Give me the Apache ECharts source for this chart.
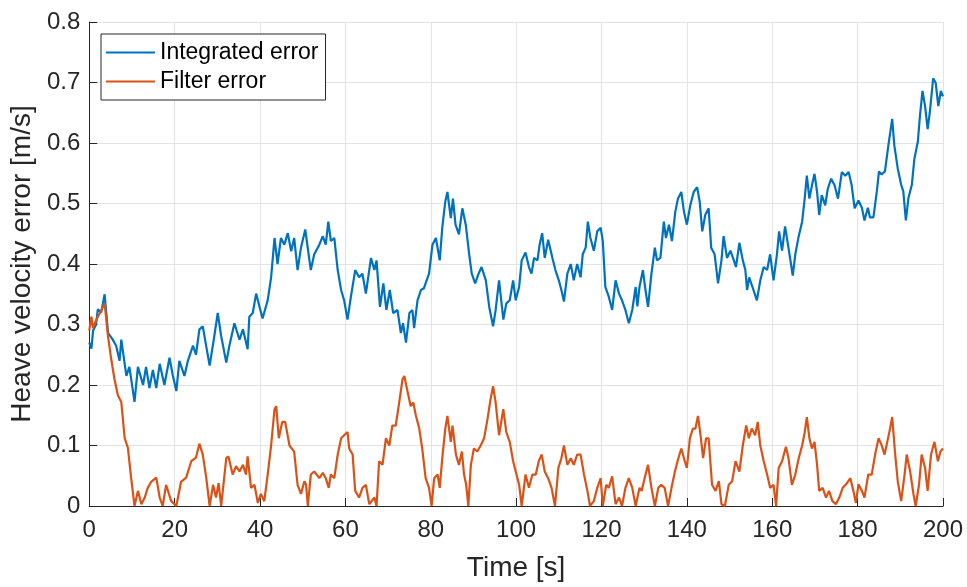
<!DOCTYPE html>
<html>
<head>
<meta charset="utf-8">
<script src="https://cdn.jsdelivr.net/npm/echarts@6/dist/echarts.min.js"></script>
<style>
  html, body { margin: 0; padding: 0; background: #fff; }
  #main { width: 967px; height: 587px; }
</style>
</head>
<body>
<div id="main"></div>
<script>
// [time s, error m/s]
var integratedError = [
  [0, 0.27], [0.5, 0.26], [0.9, 0.29], [1.6, 0.30], [2.0, 0.325], [2.8, 0.32], [3.6, 0.35], [4.4, 0.286],
  [5.5, 0.275], [6.3, 0.265], [7.1, 0.24], [7.5, 0.275], [8.7, 0.215], [9.4, 0.23], [10.6, 0.172], [11.4, 0.23],
  [12.6, 0.20], [13.3, 0.23], [14.1, 0.195], [14.9, 0.225], [15.7, 0.195], [16.5, 0.235], [17.6, 0.2], [18.8, 0.245],
  [19.6, 0.215], [20.4, 0.19], [21.1, 0.24], [22.3, 0.215], [23.1, 0.24], [24.3, 0.265], [25.0, 0.25], [25.8, 0.292],
  [26.6, 0.297], [27.4, 0.264], [28.2, 0.232], [29.3, 0.281], [30.1, 0.319], [30.9, 0.281], [32.1, 0.237], [32.8, 0.264],
  [34.0, 0.302], [35.2, 0.275], [36.0, 0.292], [37.1, 0.259], [37.5, 0.313], [38.3, 0.319], [39.1, 0.351], [39.9, 0.329],
  [40.6, 0.31], [41.8, 0.34], [42.6, 0.378], [43.4, 0.443], [44.1, 0.4], [44.9, 0.443], [45.7, 0.432], [46.5, 0.451],
  [47.3, 0.421], [48.0, 0.443], [48.8, 0.39], [49.6, 0.427], [50.6, 0.457], [51.5, 0.41], [51.9, 0.39], [52.7, 0.416],
  [53.9, 0.432], [54.7, 0.446], [55.4, 0.432], [56.0, 0.47], [56.6, 0.438], [57.4, 0.443], [58.2, 0.39], [59.0, 0.357],
  [59.7, 0.34], [60.5, 0.308], [61.3, 0.346], [62.3, 0.39], [63.2, 0.378], [64.0, 0.384], [64.8, 0.351], [66.0, 0.41],
  [66.8, 0.39], [67.3, 0.406], [68.1, 0.329], [68.9, 0.368], [69.6, 0.324], [70.4, 0.357], [71.2, 0.319], [72.2, 0.324],
  [73.0, 0.286], [73.5, 0.302], [74.2, 0.27], [75.0, 0.319], [75.7, 0.324], [76.1, 0.294], [76.9, 0.34], [77.7, 0.357],
  [78.4, 0.36], [78.8, 0.357], [79.6, 0.384], [80.4, 0.432], [81.2, 0.443], [82.1, 0.406], [82.7, 0.46], [83.4, 0.503],
  [83.9, 0.519], [84.7, 0.476], [85.2, 0.508], [85.8, 0.465], [86.6, 0.449], [87.4, 0.492], [88.2, 0.465], [89.0, 0.416],
  [89.6, 0.384], [90.4, 0.368], [91.2, 0.384], [91.9, 0.395], [92.9, 0.373], [93.7, 0.329], [94.6, 0.297], [95.2, 0.324],
  [96.0, 0.373], [97.0, 0.308], [97.7, 0.335], [98.5, 0.34], [99.3, 0.373], [99.9, 0.34], [100.7, 0.362], [101.3, 0.406],
  [102.2, 0.419], [103.0, 0.395], [103.6, 0.384], [104.2, 0.41], [105.0, 0.406], [105.5, 0.432], [106.1, 0.451], [106.7, 0.41],
  [107.5, 0.44], [108.5, 0.41], [109.2, 0.39], [110.0, 0.373], [110.6, 0.357], [111.2, 0.338], [112.0, 0.384], [112.8, 0.4],
  [113.5, 0.373], [114.3, 0.4], [115.1, 0.378], [115.6, 0.416], [116.3, 0.427], [116.8, 0.47], [117.4, 0.443], [118.2, 0.422],
  [119.0, 0.454], [119.8, 0.46], [120.3, 0.438], [120.9, 0.362], [121.7, 0.346], [122.5, 0.324], [123.3, 0.373], [124.1, 0.351],
  [124.8, 0.34], [125.6, 0.324], [126.4, 0.302], [127.2, 0.324], [128.0, 0.362], [128.4, 0.33], [128.9, 0.362], [129.7, 0.39],
  [130.3, 0.357], [130.9, 0.329], [131.7, 0.384], [132.5, 0.427], [133.0, 0.406], [133.8, 0.41], [134.6, 0.47], [135.1, 0.443],
  [135.8, 0.465], [136.5, 0.438], [137.3, 0.487], [137.9, 0.508], [138.7, 0.519], [139.3, 0.487], [140.0, 0.465], [140.8, 0.497],
  [141.6, 0.519], [142.4, 0.527], [143.0, 0.503], [143.6, 0.454], [144.3, 0.481], [145.1, 0.492], [145.7, 0.427], [146.5, 0.416],
  [147.3, 0.368], [148.1, 0.406], [148.6, 0.446], [149.4, 0.41], [150.2, 0.422], [151.0, 0.406], [151.5, 0.395], [152.3, 0.435],
  [153.1, 0.406], [153.7, 0.39], [154.1, 0.357], [154.6, 0.378], [155.6, 0.357], [156.4, 0.34], [157.2, 0.373], [158.0, 0.395],
  [158.8, 0.39], [159.5, 0.416], [160.3, 0.373], [161.1, 0.416], [161.6, 0.454], [162.3, 0.422], [163.0, 0.462], [163.8, 0.427],
  [164.8, 0.381], [165.4, 0.416], [166.2, 0.446], [167.0, 0.47], [167.6, 0.508], [168.1, 0.546], [168.7, 0.508], [169.3, 0.53],
  [169.9, 0.549], [170.5, 0.519], [171.0, 0.481], [171.6, 0.514], [172.4, 0.497], [173.0, 0.524], [173.8, 0.541], [174.6, 0.53],
  [175.4, 0.508], [176.3, 0.552], [177.1, 0.546], [177.9, 0.552], [178.6, 0.53], [179.3, 0.492], [180.2, 0.505], [181.0, 0.493],
  [181.6, 0.472], [182.4, 0.493], [182.9, 0.477], [183.7, 0.477], [184.5, 0.52], [185.0, 0.553], [185.6, 0.548], [186.4, 0.553],
  [187.2, 0.596], [188.1, 0.64], [188.6, 0.596], [189.4, 0.558], [190.2, 0.531], [190.7, 0.52], [191.3, 0.472], [191.9, 0.509],
  [192.7, 0.531], [193.3, 0.574], [194.1, 0.602], [194.6, 0.645], [195.2, 0.686], [195.8, 0.661], [196.4, 0.623], [196.9, 0.65],
  [197.7, 0.707], [198.3, 0.699], [198.9, 0.661], [199.5, 0.686], [200.0, 0.677]
];

var filterError = [
  [0, 0.29], [0.5, 0.313], [0.9, 0.294], [1.6, 0.307], [2.8, 0.323], [3.6, 0.335], [4.4, 0.28], [5.2, 0.24],
  [5.9, 0.21], [6.7, 0.183], [7.5, 0.172], [8.3, 0.112], [9.05, 0.096], [9.8, 0.047], [10.6, 0.0], [11.4, 0.025],
  [12.2, 0.003], [13.0, 0.014], [13.7, 0.03], [14.5, 0.04], [15.7, 0.047], [16.5, 0.014], [17.2, 0], [18.0, 0.035],
  [19.2, 0.008], [20.4, 0], [21.5, 0.04], [22.7, 0.047], [23.9, 0.074], [25.0, 0.08], [25.8, 0.103], [26.6, 0.085],
  [27.4, 0.047], [28.2, 0.0], [29.0, 0.035], [29.7, 0.014], [30.3, 0.038], [30.9, 0], [32.1, 0.079], [32.6, 0.082],
  [33.6, 0.052], [34.4, 0.066], [35.2, 0.057], [36.0, 0.068], [36.7, 0.052], [37.1, 0.082], [37.9, 0.03], [38.7, 0.035],
  [39.5, 0.005], [40.2, 0.02], [41.0, 0.008], [41.8, 0.052], [42.6, 0.1], [43.4, 0.16], [43.8, 0.165], [44.4, 0.112],
  [45.2, 0.139], [45.9, 0.139], [46.9, 0.1], [48.0, 0.09], [48.8, 0.035], [49.6, 0.02], [50.4, 0.041], [50.8, 0.035],
  [51.2, 0], [51.9, 0.052], [52.7, 0.057], [53.9, 0.046], [54.7, 0.055], [55.4, 0.046], [56.1, 0.03], [56.6, 0.052],
  [57.4, 0.046], [58.2, 0.085], [59.0, 0.112], [59.7, 0.117], [60.5, 0.122], [60.9, 0.095], [61.7, 0.085], [62.3, 0.025],
  [63.2, 0.014], [64.0, 0.03], [64.8, 0.035], [65.6, 0.003], [66.8, 0.014], [67.3, 0], [67.9, 0.074], [68.7, 0.068],
  [69.5, 0.112], [70.3, 0.1], [71.0, 0.133], [71.8, 0.133], [72.6, 0.171], [73.4, 0.21], [73.8, 0.215], [74.6, 0.188],
  [75.3, 0.165], [75.9, 0.171], [76.5, 0.15], [77.3, 0.128], [78.0, 0.095], [78.8, 0.046], [79.6, 0.03], [80.2, 0],
  [80.8, 0.046], [81.6, 0.052], [82.1, 0.03], [82.7, 0.079], [83.4, 0.128], [83.9, 0.149], [84.7, 0.106], [85.1, 0.133],
  [85.9, 0.085], [86.6, 0.068], [87.3, 0.09], [87.8, 0.052], [88.3, 0.035], [88.8, 0], [89.4, 0.068], [90.1, 0.095],
  [90.9, 0.09], [91.7, 0.1], [92.5, 0.112], [93.3, 0.144], [94.0, 0.176], [94.6, 0.198], [95.2, 0.171], [96.0, 0.117],
  [97.0, 0.16], [97.7, 0.122], [98.5, 0.106], [99.3, 0.074], [99.9, 0.057], [100.7, 0.035], [101.3, 0], [102.2, 0.052],
  [103.0, 0.03], [103.8, 0.052], [104.6, 0.052], [105.3, 0.074], [106.0, 0.085], [106.7, 0.057], [107.5, 0.046], [108.3, 0.03],
  [109.1, 0], [109.9, 0.063], [110.6, 0.079], [111.2, 0.1], [112.0, 0.068], [112.8, 0.079], [113.5, 0.068], [114.3, 0.085],
  [115.1, 0.085], [115.9, 0.052], [116.7, 0.025], [117.3, 0], [118.2, 0.008], [119.0, 0.03], [119.8, 0.046], [120.3, 0],
  [121.1, 0.035], [121.7, 0.03], [122.5, 0.049], [123.3, 0.003], [124.1, 0.014], [124.8, 0], [125.6, 0.03], [126.4, 0.046],
  [127.2, 0.03], [128.0, 0], [128.9, 0.03], [129.4, 0.025], [130.1, 0.046], [130.9, 0.068], [131.7, 0.03], [132.5, 0],
  [133.3, 0.03], [134.0, 0.035], [134.8, 0.03], [135.6, 0], [136.4, 0.03], [137.2, 0.057], [138.0, 0.079], [138.7, 0.095],
  [139.5, 0.074], [140.0, 0.063], [140.7, 0.112], [141.4, 0.128], [142.0, 0.128], [142.6, 0.149], [143.2, 0.117], [143.8, 0.079],
  [144.5, 0.112], [145.1, 0.112], [145.9, 0.035], [146.7, 0.025], [147.5, 0.041], [148.1, 0.003], [148.9, 0], [149.8, 0.035],
  [150.6, 0.041], [151.4, 0.074], [152.3, 0.057], [153.1, 0.1], [153.9, 0.133], [154.5, 0.112], [155.2, 0.128], [156.0, 0.117],
  [156.6, 0.139], [157.2, 0.1], [158.0, 0.074], [158.8, 0.052], [159.5, 0.03], [160.3, 0.035], [160.9, 0], [161.5, 0.063],
  [162.3, 0.074], [163.2, 0.098], [163.8, 0.079], [164.6, 0.035], [165.4, 0.052], [166.2, 0.079], [167.0, 0.1], [167.6, 0.122],
  [168.1, 0.147], [168.7, 0.112], [169.3, 0.095], [169.9, 0.106], [170.5, 0.068], [171.0, 0.025], [171.8, 0.03], [172.6, 0.014],
  [173.3, 0.025], [174.1, 0.008], [174.9, 0.003], [175.7, 0.014], [176.5, 0.03], [177.2, 0.035], [178.3, 0.046], [179.0, 0.025],
  [179.6, 0.005], [180.2, 0.036], [181.0, 0.025], [181.6, 0.014], [182.5, 0.052], [183.3, 0.052], [184.1, 0.085], [184.9, 0.112],
  [185.6, 0.101], [186.3, 0.085], [186.8, 0.101], [187.6, 0.128], [188.1, 0.147], [188.8, 0.085], [189.4, 0.041], [190.2, 0.008],
  [191.0, 0.052], [191.5, 0.085], [192.3, 0.057], [193.1, 0.019], [193.6, 0], [194.4, 0.036], [195.0, 0.085], [195.8, 0.063],
  [196.4, 0.025], [197.2, 0.085], [198.0, 0.106], [198.8, 0.074], [199.4, 0.09], [200.0, 0.095]
];

var seriesNames = ['Integrated error', 'Filter error'];
var seriesColors = ['#0072BD', '#D95319'];

var font = 'Liberation Sans, Arial, Helvetica, sans-serif';
var axisColor = '#262626';
var gridColor = '#e3e3e3';

var chart = echarts.init(document.getElementById('main'), null, { renderer: 'canvas' });

var option = {
  animation: false,
  backgroundColor: '#fff',
  grid: { left: 88, right: 24, top: 22, bottom: 75, containLabel: false },
  legend: {
    orient: 'vertical',
    left: 101,
    top: 34,
    padding: [4, 7, 4, 5],
    itemGap: 0,
    itemWidth: 49,
    itemHeight: 2,
    icon: 'rect',
    borderColor: axisColor,
    borderWidth: 1,
    backgroundColor: '#fff',
    textStyle: { fontFamily: font, fontSize: 23, color: '#000', lineHeight: 29 },
    data: seriesNames
  },
  xAxis: {
    type: 'value',
    min: 0,
    max: 200,
    interval: 20,
    name: 'Time [s]',
    nameLocation: 'middle',
    nameGap: 48,
    nameTextStyle: { fontFamily: font, fontSize: 28, color: axisColor },
    axisLine: { show: true, onZero: false, lineStyle: { color: axisColor, width: 1 } },
    axisTick: { show: true, inside: true, length: 8, lineStyle: { color: axisColor } },
    axisLabel: { fontFamily: font, fontSize: 24, color: axisColor, margin: 12 },
    splitLine: { show: true, lineStyle: { color: gridColor, width: 1 } }
  },
  yAxis: {
    type: 'value',
    min: 0,
    max: 0.8,
    interval: 0.1,
    name: 'Heave velocity error [m/s]',
    nameLocation: 'middle',
    nameGap: 52,
    nameTextStyle: { fontFamily: font, fontSize: 28, color: axisColor },
    axisLine: { show: true, onZero: false, lineStyle: { color: axisColor, width: 1 } },
    axisTick: { show: true, inside: true, length: 8, lineStyle: { color: axisColor } },
    axisLabel: { fontFamily: font, fontSize: 24, color: axisColor, margin: 9 },
    splitLine: { show: true, lineStyle: { color: gridColor, width: 1 } }
  },
  series: [
    {
      name: seriesNames[0],
      type: 'line',
      data: integratedError,
      showSymbol: false,
      symbol: 'none',
      lineStyle: { color: seriesColors[0], width: 2.2 },
      itemStyle: { color: seriesColors[0] },
      z: 3
    },
    {
      name: seriesNames[1],
      type: 'line',
      data: filterError,
      showSymbol: false,
      symbol: 'none',
      lineStyle: { color: seriesColors[1], width: 2.2 },
      itemStyle: { color: seriesColors[1] },
      z: 4
    }
  ]
};

chart.setOption(option);
</script>
</body>
</html>
